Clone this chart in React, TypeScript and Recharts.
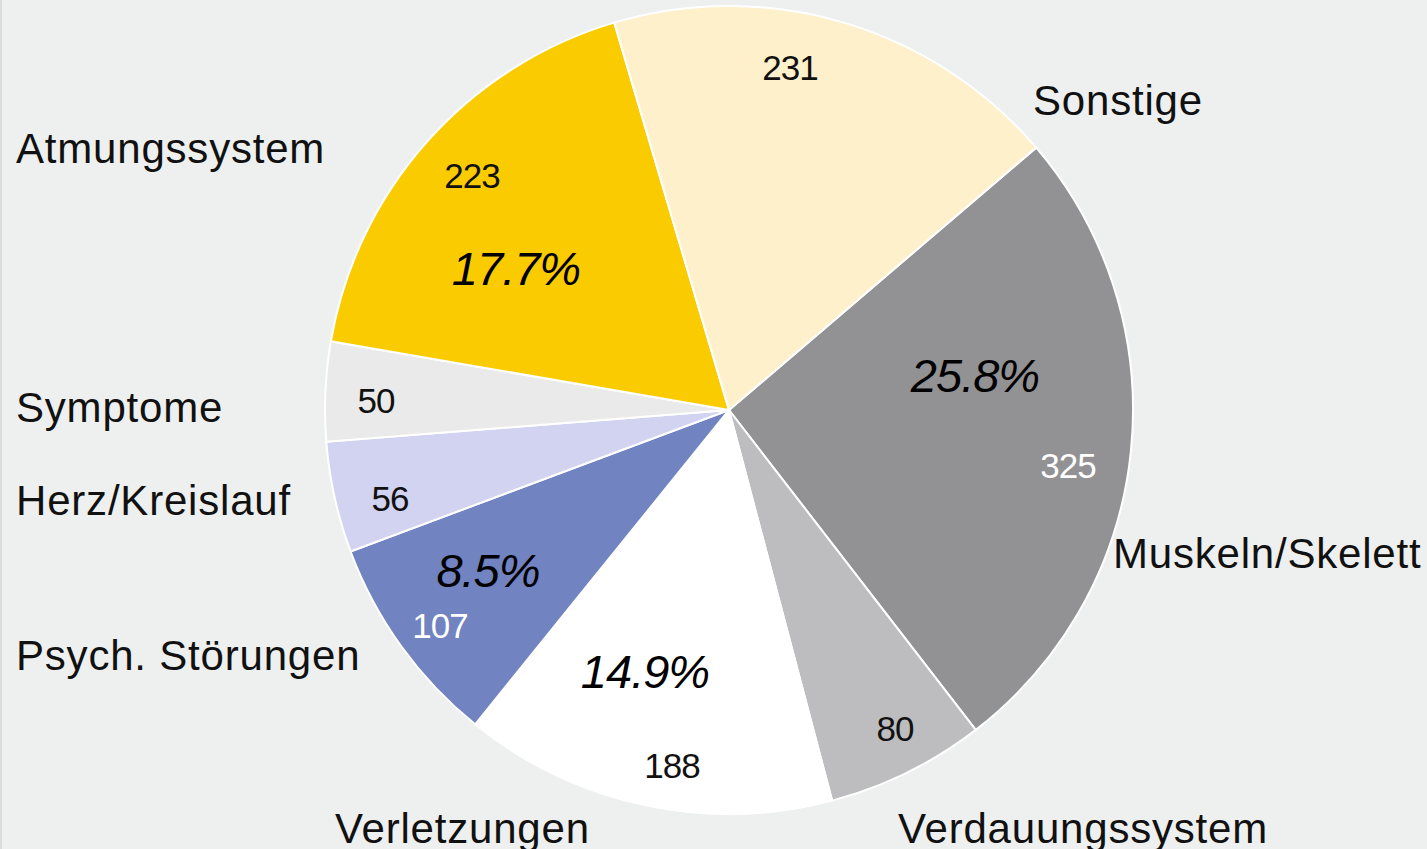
import React from "react";
import { PieChart, Pie, Cell } from "recharts";

const categories = [
  "Muskeln/Skelett",
  "Verdauungssystem",
  "Verletzungen",
  "Psych. Störungen",
  "Herz/Kreislauf",
  "Symptome",
  "Atmungssystem",
  "Sonstige",
];
const values = [325, 80, 188, 107, 56, 50, 223, 231];
const showPercent = [true, false, true, true, false, false, true, false];

const colors = ["#929294", "#bdbdbf", "#ffffff", "#7183c0", "#d1d3f0", "#e9eae9", "#facc00", "#fdf0cb"];
const valueColors = ["#ffffff", "#111", "#111", "#ffffff", "#111", "#111", "#111", "#111"];

// label layout offsets relative to pie center (pixels)
const layout = [
  { v: [339, 55], p: [246, -35], n: [384, 143] },
  { v: [166, 318], p: null, n: [169, 418] },
  { v: [-57, 355], p: [-84, 261], n: [-394, 418] },
  { v: [-289, 215], p: [-241, 160], n: [-713, 245] },
  { v: [-339, 88], p: null, n: [-713, 90] },
  { v: [-353, -10], p: null, n: [-713, -3] },
  { v: [-257, -235], p: [-213, -142], n: [-713, -262] },
  { v: [61, -343], p: null, n: [304, -310] },
];

const data = categories.map((name, i) => ({ name, value: values[i] }));
const total = values.reduce((a, b) => a + b, 0);

const CX = 729;
const CY = 410;
const FONT = "'Liberation Sans', Arial, sans-serif";

const renderLabel = (props: any) => {
  const i = props.index;
  const cx = typeof props.cx === "number" ? props.cx : CX;
  const cy = typeof props.cy === "number" ? props.cy : CY;
  const l = layout[i];
  const pct = ((values[i] / total) * 100).toFixed(1) + "%";
  return (
    <g key={`lbl-${i}`}>
      <text
        x={cx + l.v[0]}
        y={cy + l.v[1]}
        textAnchor="middle"
        dominantBaseline="central"
        fill={valueColors[i]}
        fontFamily={FONT}
        fontSize={35}
        letterSpacing={-1}
      >
        {values[i]}
      </text>
      {showPercent[i] && l.p ? (
        <text
          x={cx + l.p[0]}
          y={cy + l.p[1]}
          textAnchor="middle"
          dominantBaseline="central"
          fill="#000"
          fontFamily={FONT}
          fontStyle="italic"
          fontSize={47}
          letterSpacing={-1}
        >
          {pct}
        </text>
      ) : null}
      <text
        x={cx + l.n[0]}
        y={cy + l.n[1]}
        textAnchor="start"
        dominantBaseline="central"
        fill="#111"
        fontFamily={FONT}
        fontSize={42}
        letterSpacing={0.8}
      >
        {categories[i]}
      </text>
    </g>
  );
};

export default function App() {
  return (
    <div
      style={{
        position: "fixed",
        left: 0,
        top: 0,
        width: 1427,
        height: 849,
        background: "#eef0ef",
        boxSizing: "border-box",
        borderLeft: "2px solid #dadcdc",
        overflow: "hidden",
      }}
    >
      <div style={{ position: "absolute", left: -2, top: 0 }}>
        <PieChart width={1427} height={849} margin={{ top: 0, right: 0, bottom: 0, left: 0 }}>
          <Pie
            data={data}
            dataKey="value"
            nameKey="name"
            cx={CX}
            cy={CY}
            innerRadius={0}
            outerRadius={404}
            startAngle={40.5}
            endAngle={-319.5}
            stroke="#ffffff"
            strokeWidth={2}
            isAnimationActive={false}
            labelLine={false}
            label={renderLabel}
          >
            {data.map((d, i) => (
              <Cell key={d.name} fill={colors[i]} />
            ))}
          </Pie>
        </PieChart>
      </div>
    </div>
  );
}
